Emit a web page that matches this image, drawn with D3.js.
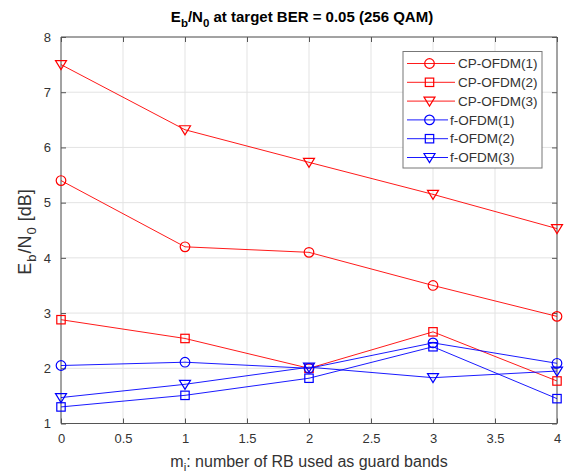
<!DOCTYPE html>
<html>
<head>
<meta charset="utf-8">
<script src="https://cdn.jsdelivr.net/npm/d3@7/dist/d3.min.js"></script>
<style>
html,body{margin:0;padding:0;background:#fff;}
svg{display:block;font-family:"Liberation Sans",Arial,sans-serif;}
</style>
</head>
<body>
<svg id="chart" width="570" height="474"></svg>
<script>
const xValues = [0, 1, 2, 3, 4];
const seriesNames = ["CP-OFDM(1)", "CP-OFDM(2)", "CP-OFDM(3)", "f-OFDM(1)", "f-OFDM(2)", "f-OFDM(3)"];
const cpOfdm1 = [5.40, 4.20, 4.10, 3.50, 2.94];
const cpOfdm2 = [2.88, 2.54, 2.00, 2.66, 1.77];
const cpOfdm3 = [7.50, 6.32, 5.73, 5.15, 4.53];
const fOfdm1 = [2.05, 2.11, 2.00, 2.46, 2.09];
const fOfdm2 = [1.30, 1.51, 1.82, 2.39, 1.45];
const fOfdm3 = [1.47, 1.71, 2.02, 1.83, 1.95];
const xTicks = [0, 0.5, 1, 1.5, 2, 2.5, 3, 3.5, 4];
const yTicks = [1, 2, 3, 4, 5, 6, 7, 8];

const seriesValues = [cpOfdm1, cpOfdm2, cpOfdm3, fOfdm1, fOfdm2, fOfdm3];
const seriesColors = ["#ff0000", "#ff0000", "#ff0000", "#0000ff", "#0000ff", "#0000ff"];
const seriesMarkers = ["circle", "square", "triangle", "circle", "square", "triangle"];

const svg = d3.select("#chart");
const L = 61, R = 557, T = 37, B = 423.5;
const x = d3.scaleLinear().domain([0, 4]).range([L, R]);
const y = d3.scaleLinear().domain([1, 8]).range([B, T]);
const axisColor = "#555";
const textColor = "#333";

// grid
const g = svg.append("g");
g.selectAll("line.gx").data(xTicks).enter().append("line")
  .attr("x1", d => x(d)).attr("x2", d => x(d)).attr("y1", T).attr("y2", B)
  .attr("stroke", "#e3e3e3").attr("stroke-width", 1);
g.selectAll("line.gy").data(yTicks).enter().append("line")
  .attr("y1", d => y(d)).attr("y2", d => y(d)).attr("x1", L).attr("x2", R)
  .attr("stroke", "#e3e3e3").attr("stroke-width", 1);

// axes using d3 axes
const xAxisB = d3.axisBottom(x).tickValues(xTicks).tickSize(-5).tickPadding(10).tickFormat(d3.format("~g"));
const xAxisT = d3.axisTop(x).tickValues(xTicks).tickSize(-5).tickFormat("");
const yAxisL = d3.axisLeft(y).tickValues(yTicks).tickSize(-5).tickPadding(10).tickFormat(d3.format("d"));
const yAxisR = d3.axisRight(y).tickValues(yTicks).tickSize(-5).tickFormat("");

function styleAxis(sel) {
  sel.selectAll("path").attr("stroke", axisColor);
  sel.selectAll("line").attr("stroke", axisColor);
  sel.selectAll("text").attr("fill", textColor).style("font-size", "13px").style("font-family", "Liberation Sans, Arial, sans-serif");
}
svg.append("g").attr("transform", `translate(0,${B})`).call(xAxisB).call(s => s.select(".domain").attr("d", `M${L},0H${R}`)).call(styleAxis);
svg.append("g").attr("transform", `translate(0,${T})`).call(xAxisT).call(s => s.select(".domain").attr("d", `M${L},0H${R}`)).call(styleAxis);
svg.append("g").attr("transform", `translate(${L},0)`).call(yAxisL).call(s => s.select(".domain").attr("d", `M0,${T}V${B}`)).call(styleAxis);
svg.append("g").attr("transform", `translate(${R},0)`).call(yAxisR).call(s => s.select(".domain").attr("d", `M0,${T}V${B}`)).call(styleAxis);

// markers
function drawMarker(sel, type, color) {
  if (type === "circle") {
    sel.append("circle").attr("r", 4.8).attr("fill", "none").attr("stroke", color).attr("stroke-width", 1.2);
  } else if (type === "square") {
    sel.append("rect").attr("x", -4.2).attr("y", -4.2).attr("width", 8.4).attr("height", 8.4)
      .attr("fill", "none").attr("stroke", color).attr("stroke-width", 1.2);
  } else {
    sel.append("path").attr("d", "M-5.5,-4 L5.5,-4 L0,5 Z").attr("fill", "none").attr("stroke", color).attr("stroke-width", 1.2);
  }
}

const line = d3.line().x((d, i) => x(xValues[i])).y(d => y(d));
seriesValues.forEach((vals, si) => {
  const grp = svg.append("g");
  grp.append("path").datum(vals).attr("d", line).attr("fill", "none")
    .attr("stroke", seriesColors[si]).attr("stroke-width", 0.9);
  vals.forEach((v, i) => {
    const m = grp.append("g").attr("transform", `translate(${x(xValues[i])},${y(v)})`);
    drawMarker(m, seriesMarkers[si], seriesColors[si]);
  });
});

// legend
const lg = svg.append("g");
lg.append("rect").attr("x", 403).attr("y", 51.5).attr("width", 139).attr("height", 116.5)
  .attr("fill", "#fff").attr("stroke", "#777").attr("stroke-width", 1);
seriesNames.forEach((name, i) => {
  const cy = 63.5 + i * 18.8;
  const isCP = i < 3;
  const lineEnd = isCP ? 455 : 448;
  const textX = isCP ? 458 : 450;
  lg.append("line").attr("x1", 407).attr("x2", lineEnd).attr("y1", cy).attr("y2", cy)
    .attr("stroke", seriesColors[i]).attr("stroke-width", 0.9);
  const m = lg.append("g").attr("transform", `translate(429.5,${cy})`);
  drawMarker(m, seriesMarkers[i], seriesColors[i]);
  lg.append("text").attr("x", textX).attr("y", cy + 4.7).attr("fill", textColor)
    .style("font-size", "13.5px").text(name);
});

// title
const title = svg.append("text").attr("x", 302).attr("y", 22).attr("text-anchor", "middle")
  .attr("fill", "#000").style("font-size", "15px").style("font-weight", "bold");
title.append("tspan").text("E");
title.append("tspan").attr("dy", 5).style("font-size", "11.5px").text("b");
title.append("tspan").attr("dy", -5).text("/N");
title.append("tspan").attr("dy", 5).style("font-size", "11.5px").text("0");
title.append("tspan").attr("dy", -5).text(" at target BER = 0.05 (256 QAM)");

// x label
const xl = svg.append("text").attr("x", 309).attr("y", 467).attr("text-anchor", "middle")
  .attr("fill", textColor).style("font-size", "16px");
xl.append("tspan").text("m");
xl.append("tspan").attr("dy", 4).style("font-size", "11.5px").text("i");
xl.append("tspan").attr("dy", -4).text(": number of RB used as guard bands");

// y label
const yl = svg.append("text").attr("transform", `translate(31,232) rotate(-90)`).attr("text-anchor", "middle")
  .attr("fill", textColor).style("font-size", "18px");
yl.append("tspan").text("E");
yl.append("tspan").attr("dy", 5).attr("dx", 1).style("font-size", "13px").text("b");
yl.append("tspan").attr("dy", -5).attr("dx", 1).text("/N");
yl.append("tspan").attr("dy", 5).attr("dx", 1).style("font-size", "13px").text("0");
yl.append("tspan").attr("dy", -5).attr("dx", 1).text(" [dB]");
</script>
</body>
</html>
